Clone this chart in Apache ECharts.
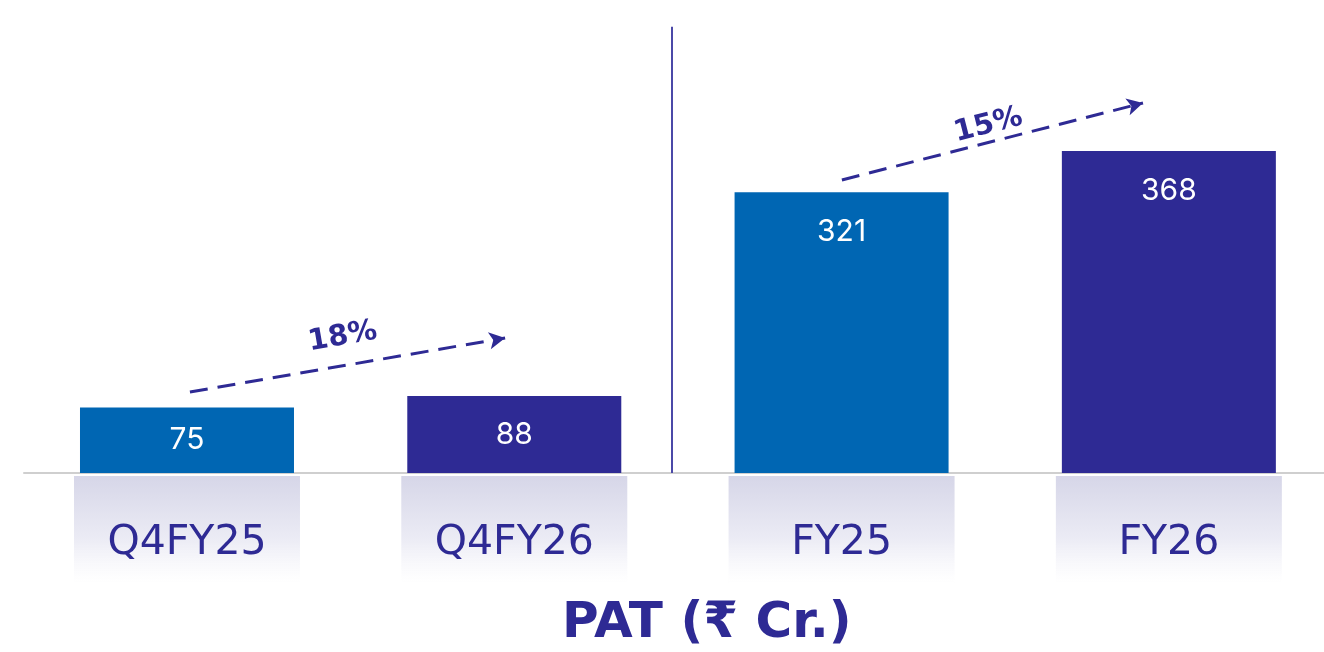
<!DOCTYPE html>
<html style="height: 100%">
  <head>
    <meta charset="utf-8" />
  </head>
  <body style="height: 100%; margin: 0; background: #ffffff">
    <div id="pat-container" style="width: 1324px; height: 652px"></div>
    <script src="https://cdn.jsdelivr.net/npm/echarts@6/dist/echarts.min.js"></script>
    <script type="text/javascript">
      // categories and values
      let categories = ["Q4FY25", "Q4FY26", "FY25", "FY26"];
      let patValues = [75, 88, 321, 368];
      // growth arrows
      let growthLabels = ["18%", "15%"];
      let titleText = "PAT (₹ Cr.)";

      const blue = "#0066b3";
      const indigo = "#2e2a94";
      const barColors = [blue, indigo, blue, indigo];
      const font = "Inter, 'Noto Sans', sans-serif";
      const wideFont = "'DejaVu Sans', 'Noto Sans', sans-serif";

      var dom = document.getElementById("pat-container");
      var myChart = echarts.init(dom);

      // bars sit on a value x axis at positions 0..3
      let barData = patValues.map(function (v, i) {
        return {
          value: [i, v],
          itemStyle: { color: barColors[i] },
          label: v < 150 ? { position: "inside" } : { position: "insideTop", distance: 25 },
        };
      });
      // label boxes under the axis
      let boxData = categories.map(function (c, i) {
        return [i, 1];
      });

      // x range so the four slots are ~327px wide
      const xMin = -0.498;
      const xMax = 3.474;

      var option = {
        animation: false,
        title: {
          text: titleText,
          left: 557,
          top: 594,
          textStyle: { fontFamily: wideFont, fontSize: 50, fontWeight: "bold", color: indigo },
        },
        grid: [
          { left: 24, right: 0, top: 26.75, bottom: 179 },
          { left: 24, right: 0, top: 476, height: 107 },
        ],
        xAxis: [
          {
            type: "value",
            gridIndex: 0,
            min: xMin,
            max: xMax,
            splitLine: { show: false },
            axisLine: { show: true, onZero: false, lineStyle: { color: "#cfcfcf", width: 2 } },
            axisTick: { show: false },
            axisLabel: { show: false },
          },
          { type: "value", gridIndex: 1, min: xMin, max: xMax, show: false },
        ],
        yAxis: [
          { type: "value", gridIndex: 0, min: 0, max: 510, show: false },
          { type: "value", gridIndex: 1, min: 0, max: 1, show: false },
        ],
        series: [
          {
            name: "PAT",
            type: "bar",
            xAxisIndex: 0,
            yAxisIndex: 0,
            barWidth: 214,
            clip: false,
            data: barData,
            label: {
              show: true,
              color: "#ffffff",
              fontFamily: font,
              fontSize: 30,
              formatter: function (p) {
                return p.value[1];
              },
            },
            markLine: {
              silent: true,
              symbol: "none",
              label: { show: false },
              lineStyle: { type: "solid", width: 2, color: "#4b49a8" },
              data: [{ xAxis: 1.48 }],
            },
          },
          {
            name: "box",
            type: "bar",
            xAxisIndex: 1,
            yAxisIndex: 1,
            barWidth: 226,
            clip: false,
            data: boxData,
            itemStyle: {
              color: new echarts.graphic.LinearGradient(0, 0, 0, 1, [
                { offset: 0, color: "#d6d6e8" },
                { offset: 0.6, color: "#ececf5" },
                { offset: 1, color: "rgba(255,255,255,0.6)" },
              ]),
            },
            label: {
              show: true,
              position: "inside",
              offset: [0, 14],
              formatter: function (p) {
                return categories[p.dataIndex];
              },
              color: indigo,
              fontFamily: wideFont,
              fontSize: 41,
            },
          },
          {
            name: "trend",
            type: "line",
            xAxisIndex: 0,
            yAxisIndex: 0,
            data: [],
            markLine: {
              silent: true,
              symbol: ["none", "arrow"],
              symbolSize: [13, 16],
              lineStyle: { type: [18, 10], width: 3, color: indigo },
              label: {
                show: true,
                position: "middle",
                distance: 14,
                color: indigo,
                fontFamily: wideFont,
                fontSize: 29,
                fontWeight: "bold",
              },
              data: [
                [
                  { coord: [0.009, 92.6], name: growthLabels[0] },
                  { coord: [0.972, 154.3] },
                ],
                [
                  { coord: [2.001, 334.9], name: growthLabels[1], label: { distance: 2 } },
                  { coord: [2.921, 422.9] },
                ],
              ],
            },
          },
        ],
      };

      if (option && typeof option === "object") {
        myChart.setOption(option);
      }
    </script>
  </body>
</html>
